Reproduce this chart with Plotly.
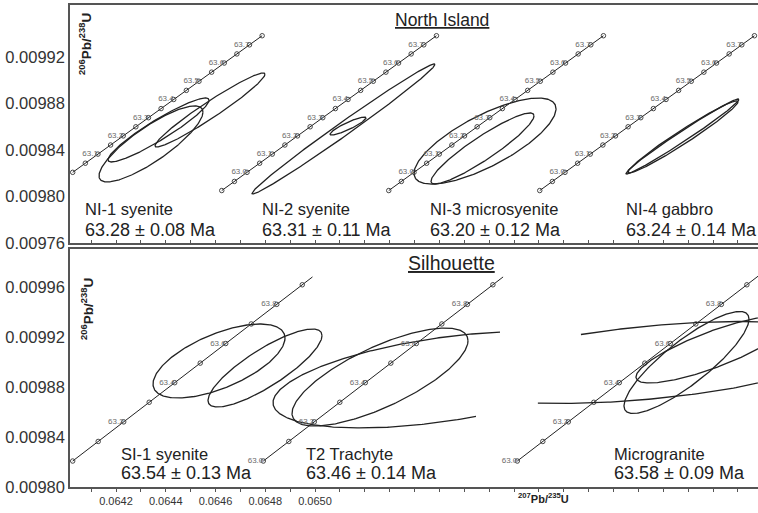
import numpy as np
import plotly.graph_objects as go

# U-Pb decay constants (per year) used to place the concordia curve
LAMBDA_238 = 1.55125e-10
LAMBDA_235 = 9.8485e-10

# ---------------------------------------------------------------- data
# North Island (top row)
ni_titles = ["NI-1 syenite", "NI-2 syenite", "NI-3 microsyenite", "NI-4 gabbro"]
ni_results = ["63.28 ± 0.08 Ma", "63.31 ± 0.11 Ma", "63.20 ± 0.12 Ma", "63.24 ± 0.14 Ma"]
ni_line_end = [63.75, 63.75, 63.75, 63.75]
ni1_marker_ages = [63.0, 63.05, 63.1, 63.15, 63.2, 63.25, 63.3, 63.35, 63.4, 63.45,
                   63.5, 63.55, 63.6, 63.65, 63.7, 63.75]
ni_marker_ages = [62.9, 62.95, 63.0, 63.05, 63.1, 63.15, 63.2, 63.25, 63.3, 63.35,
                  63.4, 63.45, 63.5, 63.55, 63.6, 63.65, 63.7, 63.75]
ni1_label_ages = [63.1, 63.2, 63.3, 63.4, 63.5, 63.6, 63.7]
ni_label_ages = [63.0, 63.1, 63.2, 63.3, 63.4, 63.5, 63.6, 63.7]

# error ellipses: (207Pb/235U, sigma, 206Pb/238U, sigma, rho)
ni1_ellipses = [(0.0643669, 0.00020958, 0.0098572, 0.00002753, 0.93),
                (0.0643357, 0.00021580, 0.0098452, 0.00003269, 0.84),
                (0.0645806, 0.00022825, 0.0098744, 0.00003183, 0.965)]
ni2_ellipses = [(0.0644113, 0.00037973, 0.0098581, 0.00005591, 0.992),
                (0.0644300, 0.00007470, 0.0098606, 0.00000774, 0.90)]
ni3_ellipses = [(0.0643055, 0.00029465, 0.0098477, 0.00003699, 0.75),
                (0.0642951, 0.00021373, 0.0098413, 0.00003054, 0.92)]
ni4_ellipses = [(0.0644984, 0.00023448, 0.0098516, 0.00003226, 0.987),
                (0.0645005, 0.00022825, 0.0098512, 0.00003097, 0.975)]

# Silhouette (bottom row)
si_titles = ["SI-1 syenite", "T2 Trachyte", "Microgranite"]
si_results = ["63.54 ± 0.13 Ma", "63.46 ± 0.14 Ma", "63.58 ± 0.09 Ma"]
si_line_end = [63.94, 63.94, 64.0]
si_marker_ages = [63.0, 63.1, 63.2, 63.3, 63.4, 63.5, 63.6, 63.7, 63.8, 63.9]
si1_label_ages = [63.2, 63.4, 63.6, 63.8]
si_label_ages = [63.0, 63.2, 63.4, 63.6, 63.8]

si1_ellipses = [(0.0646121, 0.00027126, 0.0099008, 0.0000296, 0.62),
                (0.0648012, 0.00023427, 0.0098952, 0.0000312, 0.83)]
t2_ellipses = [(0.0644904, 0.00036168, 0.0098880, 0.0000392, 0.74)]
# partial ellipses: (..., rho, start angle, end angle)
t2_arcs = [(0.0647383, 0.00068760, 0.0098857, 0.00003848, 0.475, 69.1, 282.3)]
mg_ellipses = [(0.0647062, 0.00025688, 0.0098996, 0.0000408, 0.85),
               (0.0648151, 0.00031647, 0.0099100, 0.0000268, 0.82)]
mg_arcs = [(0.0645562, 0.00082200, 0.0098996, 0.0000328, 0.45, 235.9, 470.2)]

# axis ticks
top_y_ticks = [0.00976, 0.00980, 0.00984, 0.00988, 0.00992]
bot_y_ticks = [0.00980, 0.00984, 0.00988, 0.00992, 0.00996]
x_tick_labels = [0.0642, 0.0644, 0.0646, 0.0648, 0.0650]
x_minor_ticks = [0.0641, 0.0642, 0.0643, 0.0644, 0.0645, 0.0646, 0.0647, 0.0648,
                 0.0649, 0.0650, 0.0651, 0.0652, 0.0653, 0.0654, 0.0655, 0.0656,
                 0.0657, 0.0658, 0.0659, 0.0660, 0.0661, 0.0662, 0.0663, 0.0664,
                 0.0665, 0.0666, 0.0667]

# ---------------------------------------------------------------- layout settings
FONT = "Liberation Sans, Arial, Helvetica, sans-serif"
INK = "#222222"
FRAME = "#555555"

W, H = 758, 513
ML, MR, MT, MB = 70, 0, 5, 26
PW, PH = W - ML - MR, H - MT - MB

# horizontal extent (pixels) and x range of each small concordia panel
top_panel_px = [[70, 330], [215, 470], [380, 620], [530, 758]]
top_panel_ranges = [[0.0639996, 0.0650786], [0.0638780, 0.0649363],
                    [0.0638697, 0.0648657], [0.0638656, 0.0648118]]
bot_panel_px = [[70, 340], [240, 510], [490, 758]]
bot_panel_ranges = [[0.0639997, 0.0651094], [0.0639150, 0.0650247],
                    [0.0638986, 0.0650001]]
main_x_range = [0.0640151, 0.0667808]
top_y_range = [0.00976, 0.0099647]
bot_y_range = [0.00980, 0.0099904]


def concordia(ages):
    t = np.asarray(ages, dtype=float) * 1e6
    return np.expm1(LAMBDA_235 * t), np.expm1(LAMBDA_238 * t)


def ellipse_xy(cx, sx, cy, sy, rho, a0=0.0, a1=360.0, n=300):
    t = np.radians(np.linspace(a0, a1, n))
    x = cx + sx * np.cos(t)
    y = cy + sy * (rho * np.cos(t) + np.sqrt(1 - rho ** 2) * np.sin(t))
    return x, y


fig = go.Figure()


def add_panel(xa, ya, marker_ages, line_end, label_ages, ellipses, arcs=()):
    line_ages = list(marker_ages)
    if line_end > line_ages[-1]:
        line_ages.append(line_end)
    lx, ly = concordia(line_ages)
    fig.add_trace(go.Scatter(x=lx, y=ly, xaxis=xa, yaxis=ya, mode="lines",
                             line=dict(color=INK, width=1), hoverinfo="skip",
                             showlegend=False))
    for e in list(ellipses) + list(arcs):
        ex, ey = ellipse_xy(*e)
        fig.add_trace(go.Scatter(x=ex, y=ey, xaxis=xa, yaxis=ya, mode="lines",
                                 line=dict(color=INK, width=1.3), hoverinfo="skip",
                                 showlegend=False))
    mx, my = concordia(marker_ages)
    fig.add_trace(go.Scatter(x=mx, y=my, xaxis=xa, yaxis=ya, mode="markers",
                             marker=dict(symbol="circle-open", size=4.5,
                                         color="#333333", line=dict(width=0.9)),
                             hoverinfo="skip", showlegend=False))
    tx, ty = concordia(label_ages)
    fig.add_trace(go.Scatter(x=tx, y=ty, xaxis=xa, yaxis=ya, mode="text",
                             text=[f"{a:.1f}" for a in label_ages],
                             textposition="middle left", cliponaxis=False,
                             textfont=dict(size=8, color="#6a6a6a", family=FONT),
                             hoverinfo="skip", showlegend=False))


# invisible anchors so the two framed subplots are always built
fig.add_trace(go.Scatter(x=[main_x_range[0]], y=[top_y_range[0]], xaxis="x", yaxis="y",
                         mode="markers", marker=dict(opacity=0), hoverinfo="skip",
                         showlegend=False))
fig.add_trace(go.Scatter(x=[main_x_range[0]], y=[bot_y_range[0]], xaxis="x2", yaxis="y2",
                         mode="markers", marker=dict(opacity=0), hoverinfo="skip",
                         showlegend=False))

add_panel("x3", "y", ni1_marker_ages, ni_line_end[0], ni1_label_ages, ni1_ellipses)
add_panel("x4", "y", ni_marker_ages, ni_line_end[1], ni_label_ages, ni2_ellipses)
add_panel("x5", "y", ni_marker_ages, ni_line_end[2], ni_label_ages, ni3_ellipses)
add_panel("x6", "y", ni_marker_ages, ni_line_end[3], ni_label_ages, ni4_ellipses)
add_panel("x7", "y2", si_marker_ages, si_line_end[0], si1_label_ages, si1_ellipses)
add_panel("x8", "y2", si_marker_ages, si_line_end[1], si_label_ages, t2_ellipses, t2_arcs)
add_panel("x9", "y2", si_marker_ages, si_line_end[2], si_label_ages, mg_ellipses, mg_arcs)

# ---------------------------------------------------------------- axes
TOP_DOM = [1 - (243 - MT) / PH, 1]
BOT_DOM = [0, (487 - 249) / PH]

frame = dict(showline=True, linecolor=FRAME, linewidth=1.5, showgrid=False,
             zeroline=False, fixedrange=True)

layout = dict(
    width=W, height=H,
    margin=dict(l=ML, r=MR, t=MT, b=MB),
    paper_bgcolor="white", plot_bgcolor="rgba(0,0,0,0)",
    font=dict(family=FONT, color=INK),
    showlegend=False,
    xaxis=dict(**frame, anchor="y", domain=[0, 1], range=main_x_range, mirror=True,
               tickmode="array", tickvals=x_minor_ticks, ticks="inside", ticklen=3,
               tickcolor=FRAME, showticklabels=False),
    yaxis=dict(**frame, anchor="x", domain=TOP_DOM, range=top_y_range,
               tickmode="array", tickvals=top_y_ticks,
               ticktext=[f"{v:.5f}" for v in top_y_ticks], ticks="",
               tickfont=dict(size=16.5, color="#333333", family=FONT)),
    xaxis2=dict(**frame, anchor="y2", domain=[0, 1], range=main_x_range, mirror=True,
                tickmode="array", tickvals=x_minor_ticks,
                ticktext=[f"{v:.4f}" if any(abs(v - l) < 1e-9 for l in x_tick_labels)
                          else "" for v in x_minor_ticks],
                ticks="outside", ticklen=3, tickcolor=FRAME,
                tickfont=dict(size=11, color="#333333", family=FONT)),
    yaxis2=dict(**frame, anchor="x2", domain=BOT_DOM, range=bot_y_range,
                tickmode="array", tickvals=bot_y_ticks,
                ticktext=[f"{v:.5f}" for v in bot_y_ticks], ticks="",
                tickfont=dict(size=16.5, color="#333333", family=FONT)),
)


def dom(pxs):
    return [(pxs[0] - ML) / PW, (pxs[1] - ML) / PW]


for i, (p, r) in enumerate(zip(top_panel_px, top_panel_ranges)):
    layout[f"xaxis{3 + i}"] = dict(anchor="y", domain=dom(p), range=r, visible=False,
                                   fixedrange=True)
for i, (p, r) in enumerate(zip(bot_panel_px, bot_panel_ranges)):
    layout[f"xaxis{7 + i}"] = dict(anchor="y2", domain=dom(p), range=r, visible=False,
                                   fixedrange=True)
fig.update_layout(**layout)


def px_x(px):
    return (px - ML) / PW


def px_y(py):
    return (MT + PH - py) / PH


ann = []
top_text_x = [83, 260, 428, 624]
for name, res, x in zip(ni_titles, ni_results, top_text_x):
    ann.append(dict(text=name, x=px_x(x), y=px_y(209), font=dict(size=16.5)))
    ann.append(dict(text=res, x=px_x(x), y=px_y(230), font=dict(size=18)))
bot_text_x = [119, 304, 612]
for name, res, x in zip(si_titles, si_results, bot_text_x):
    ann.append(dict(text=name, x=px_x(x), y=px_y(454), font=dict(size=16.5)))
    ann.append(dict(text=res, x=px_x(x), y=px_y(473), font=dict(size=18)))
for a in ann:
    a.update(xref="paper", yref="paper", xanchor="left", yanchor="middle",
             showarrow=False)
    a["font"].update(color=INK, family=FONT)

ann += [
    dict(text="<u>North Island</u>", x=px_x(442), y=px_y(20), xref="paper",
         yref="paper", showarrow=False, xanchor="center", yanchor="middle",
         font=dict(size=17.5, color=INK, family=FONT)),
    dict(text="<u>Silhouette</u>", x=px_x(451), y=px_y(263), xref="paper",
         yref="paper", showarrow=False, xanchor="center", yanchor="middle",
         font=dict(size=19.5, color=INK, family=FONT)),
    dict(text="<b><sup>206</sup>Pb/<sup>238</sup>U</b>", x=px_x(85), y=px_y(44),
         xref="paper", yref="paper", showarrow=False, textangle=-90,
         xanchor="center", yanchor="middle",
         font=dict(size=13.5, color=INK, family=FONT)),
    dict(text="<b><sup>206</sup>Pb/<sup>238</sup>U</b>", x=px_x(87), y=px_y(309),
         xref="paper", yref="paper", showarrow=False, textangle=-90,
         xanchor="center", yanchor="middle",
         font=dict(size=13.5, color=INK, family=FONT)),
    dict(text="<b><sup>207</sup>Pb/<sup>235</sup>U</b>", x=px_x(543), y=px_y(498),
         xref="paper", yref="paper", showarrow=False, xanchor="center",
         yanchor="middle", font=dict(size=11, color=INK, family=FONT)),
]
fig.update_layout(annotations=ann)

fig.write_html("out.html")
